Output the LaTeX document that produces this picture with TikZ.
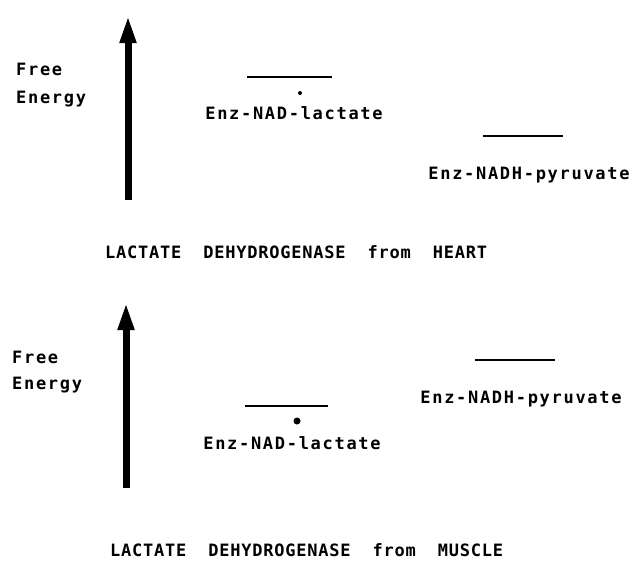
\documentclass[tikz,border=0pt]{standalone}
\usepackage{fontspec}
\newfontfamily\plotfont{DejaVu Sans Mono}[LetterSpace=10]
\newfontfamily\titlefont{DejaVu Sans Mono}[LetterSpace=4.5]
\usetikzlibrary{arrows.meta,positioning}

\begin{document}
\begin{tikzpicture}[
    x=1pt, y=-1pt,
    font=\plotfont\bfseries\fontsize{17}{19}\selectfont,
    lbl/.style={inner sep=0pt, anchor=base},
    caplbl/.style={inner sep=0pt, anchor=base west},
    titlelbl/.style={inner sep=0pt, anchor=base west, font=\titlefont\bfseries\fontsize{17}{19}\selectfont},
    level/.style={line width=2.8pt},
    axis/.style={line width=7pt, -{Triangle[width=15pt,length=28pt]}},
    dotmark/.style={circle, fill=black, inner sep=0pt}
]
\useasboundingbox (0,0) rectangle (635,560);

% heart
\coordinate (hbot) at (128,200);
\coordinate (htop) at (128,15);
\draw[axis] (hbot) -- (htop);
\node[caplbl] (hfree) at (16,75) {Free};
\node[caplbl] (henergy) at (16,103) {Energy};

\coordinate (hlacL) at (247,77);
\coordinate (hlacR) at (332,77);
\draw[level] (hlacL) -- (hlacR);
\node[dotmark, minimum size=4pt] (hdot) at (300,93) {};
\node[lbl] (hlac) at (294,119) {Enz-NAD-lactate};

\coordinate (hpyrL) at (483,136);
\coordinate (hpyrR) at (563,136);
\draw[level] (hpyrL) -- (hpyrR);
\node[lbl] (hpyr) at (529,179) {Enz-NADH-pyruvate};

\node[titlelbl] (hcap) at (105,258) {LACTATE\ \ DEHYDROGENASE\ \ from\ \ HEART};

% muscle
\coordinate (mbot) at (126,488);
\coordinate (mtop) at (126,302);
\draw[axis] (mbot) -- (mtop);
\node[caplbl] (mfree) at (12,363) {Free};
\node[caplbl] (menergy) at (12,389) {Energy};

\coordinate (mlacL) at (245,406);
\coordinate (mlacR) at (328,406);
\draw[level] (mlacL) -- (mlacR);
\node[dotmark, minimum size=7pt] (mdot) at (297,421) {};
\node[lbl] (mlac) at (292,449) {Enz-NAD-lactate};

\coordinate (mpyrL) at (475,360);
\coordinate (mpyrR) at (555,360);
\draw[level] (mpyrL) -- (mpyrR);
\node[lbl] (mpyr) at (521,403) {Enz-NADH-pyruvate};

\node[titlelbl] (mcap) at (110,556) {LACTATE\ \ DEHYDROGENASE\ \ from\ \ MUSCLE};

\end{tikzpicture}
\end{document}
